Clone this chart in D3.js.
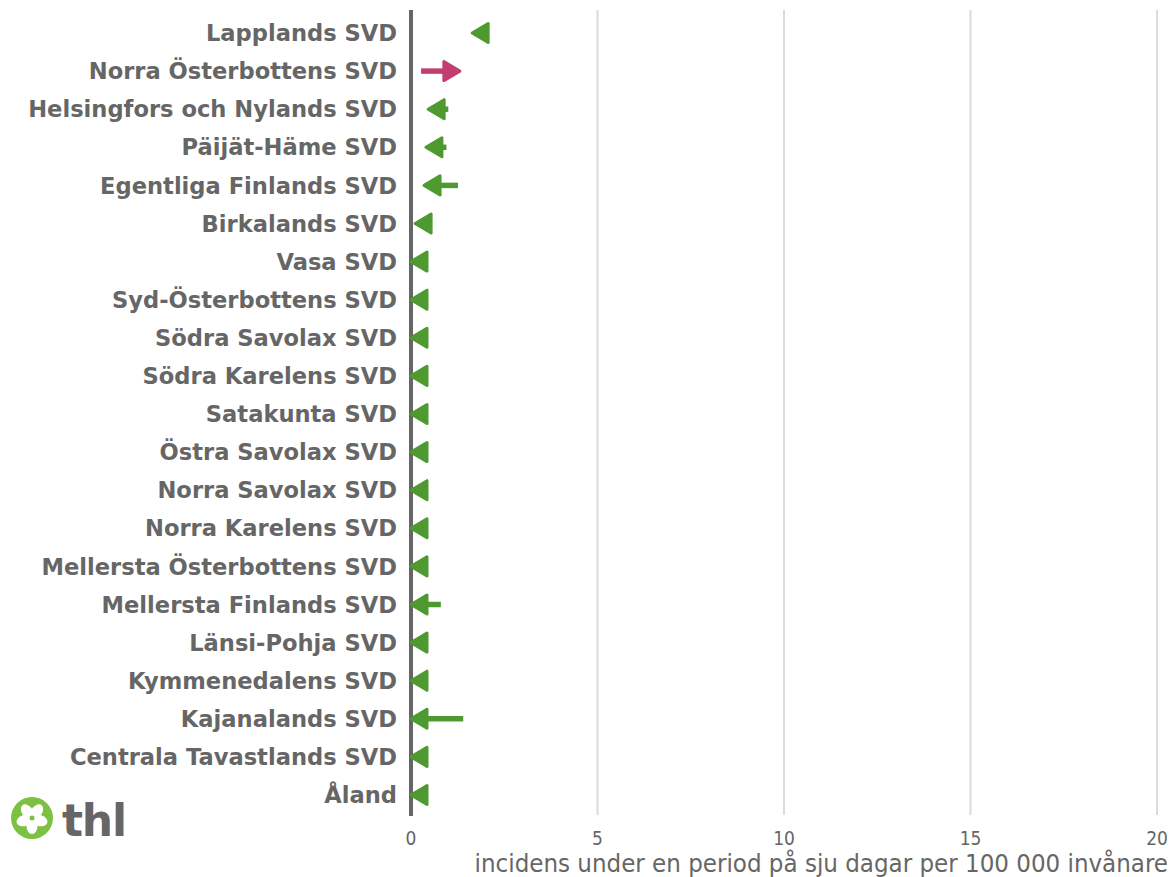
<!DOCTYPE html>
<meta charset="utf-8">
<style>
    body { margin: 0; background: #fff; }
    text { font-family: "DejaVu Sans", sans-serif; }
</style>
<svg width="1171" height="877"></svg>

<script src="https://d3js.org/d3.v7.min.js"></script>
<script>
    var regions = ["Lapplands SVD", "Norra Österbottens SVD", "Helsingfors och Nylands SVD", "Päijät-Häme SVD",
        "Egentliga Finlands SVD", "Birkalands SVD", "Vasa SVD", "Syd-Österbottens SVD", "Södra Savolax SVD",
        "Södra Karelens SVD", "Satakunta SVD", "Östra Savolax SVD", "Norra Savolax SVD", "Norra Karelens SVD",
        "Mellersta Österbottens SVD", "Mellersta Finlands SVD", "Länsi-Pohja SVD", "Kymmenedalens SVD",
        "Kajanalands SVD", "Centrala Tavastlands SVD", "Åland"];
    // previous week -> current week
    var previous = [2.0, 0.27, 1.0, 0.95, 1.26, 0.5, 0.3, 0.3, 0.3, 0.3, 0.45, 0.3, 0.3, 0.3, 0.3, 0.8, 0.3, 0.3, 1.4, 0.3, 0.3];
    var current = [1.64, 1.31, 0.46, 0.4, 0.35, 0.11, 0, 0, 0, 0, 0, 0, 0, 0, 0, 0, 0, 0, 0, 0, 0];
    var xTicks = [0, 5, 10, 15, 20];
    var axisTitle = "incidens under en period på sju dagar per 100 000 invånare";

    (function () {
        var svg = d3.select("svg"),
            grey = "#666",
            up = "#c13e72",
            down = "#4f9a30",
            headLen = 16,
            headHalf = 9.5,
            condensed = "'DejaVu Sans Condensed', 'DejaVu Sans', sans-serif";

        var x = d3.scaleLinear().domain([0, 20]).range([411, 1157]);
        var y = d3.scalePoint().domain(regions).range([33, 795]);

        var rows = regions.map(function (r, i) {
            return {name: r, prev: previous[i], cur: current[i]};
        });

        // grid
        svg.append("g").selectAll("line")
            .data(xTicks.slice(1))
            .enter().append("line")
            .attr("x1", x).attr("x2", x)
            .attr("y1", 10).attr("y2", 815)
            .attr("stroke", "#dcdcdc")
            .attr("stroke-width", 2);

        // tick labels
        svg.append("g").selectAll("text")
            .data(xTicks)
            .enter().append("text")
            .attr("x", x)
            .attr("y", 845)
            .attr("text-anchor", "middle")
            .attr("fill", grey)
            .style("font-size", "19px")
            .style("font-family", condensed)
            .text(function (d) { return d; });

        svg.append("text")
            .attr("x", 1168)
            .attr("y", 872)
            .attr("text-anchor", "end")
            .attr("fill", grey)
            .style("font-size", "25.6px")
            .style("font-family", condensed)
            .text(axisTitle);

        // category labels
        svg.append("g").selectAll("text")
            .data(rows)
            .enter().append("text")
            .attr("x", 397)
            .attr("y", function (d) { return y(d.name); })
            .attr("dy", "0.36em")
            .attr("text-anchor", "end")
            .attr("fill", grey)
            .style("font-size", "22.6px")
            .style("font-weight", "bold")
            .text(function (d) { return d.name; });

        // zero line
        svg.append("line")
            .attr("x1", x(0)).attr("x2", x(0))
            .attr("y1", 10).attr("y2", 816)
            .attr("stroke", grey)
            .attr("stroke-width", 4);

        // arrows
        var arrow = svg.append("g").selectAll("g")
            .data(rows)
            .enter().append("g")
            .attr("transform", function (d) { return "translate(0," + y(d.name) + ")"; });

        arrow.each(function (d) {
            var g = d3.select(this),
                x1 = x(d.prev),
                x2 = x(d.cur),
                dir = x2 >= x1 ? 1 : -1,
                col = dir > 0 ? up : down,
                base = x2 - dir * headLen;

            g.append("line")
                .attr("x1", x1).attr("x2", base)
                .attr("stroke", col)
                .attr("stroke-width", 5.5);

            g.append("path")
                .attr("d", "M" + x2 + ",0L" + base + "," + (-headHalf) + "L" + base + "," + headHalf + "Z")
                .attr("fill", col)
                .attr("stroke", col)
                .attr("stroke-width", 3)
                .attr("stroke-linejoin", "round");
        });

        // logo
        var logo = svg.append("g").attr("transform", "translate(32,818)");
        logo.append("circle").attr("r", 21).attr("fill", "#7cc142");
        logo.selectAll("ellipse")
            .data(d3.range(5))
            .enter().append("ellipse")
            .attr("cx", 0).attr("cy", -8)
            .attr("rx", 5.5).attr("ry", 8)
            .attr("fill", "#fff")
            .attr("transform", function (d) { return "rotate(" + (d * 72 + 36) + ")"; });
        logo.append("circle").attr("r", 2.5).attr("fill", "#7cc142");

        svg.append("text")
            .attr("x", 62)
            .attr("y", 836)
            .attr("fill", grey)
            .attr("textLength", 65)
            .style("font-size", "44px")
            .style("font-weight", "bold")
            .text("thl");
    })();
</script>
